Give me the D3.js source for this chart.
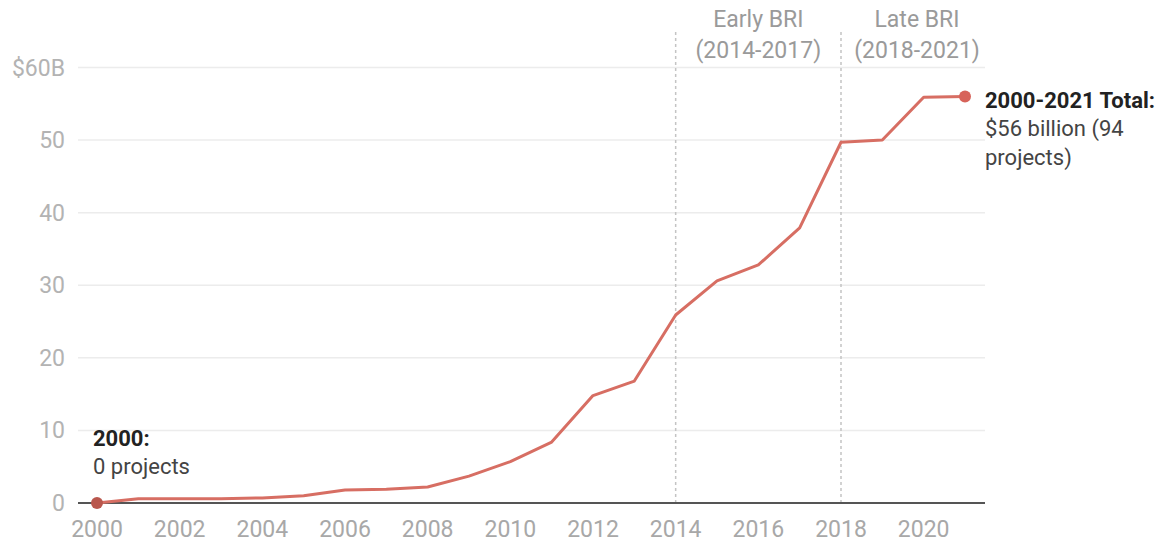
<!DOCTYPE html>
<html>
<head>
<meta charset="utf-8">
<script src="https://cdn.jsdelivr.net/npm/d3@7"></script>
<style>
  html, body { margin: 0; padding: 0; background: #fff; }
  svg { display: block; font-family: Roboto, "Noto Sans", sans-serif; }
</style>
</head>
<body>
<svg id="chart" width="1174" height="553"></svg>
<script>
// Cumulative Chinese financing, billions of USD, by year
const years = [2000, 2001, 2002, 2003, 2004, 2005, 2006, 2007, 2008, 2009, 2010,
               2011, 2012, 2013, 2014, 2015, 2016, 2017, 2018, 2019, 2020, 2021];
const cumulativeBillions = [0, 0.6, 0.6, 0.6, 0.7, 1.0, 1.8, 1.9, 2.2, 3.7, 5.7,
                            8.4, 14.8, 16.8, 25.9, 30.6, 32.8, 37.9, 49.7, 50.0, 55.9, 56.0];
const yTicks = [0, 10, 20, 30, 40, 50, 60];
const xTicks = [2000, 2002, 2004, 2006, 2008, 2010, 2012, 2014, 2016, 2018, 2020];
const periodStarts = [2014, 2018];
const periodLabels = [["Early BRI", "(2014-2017)"], ["Late BRI", "(2018-2021)"]];
const startNote = ["2000:", "0 projects"];
const endNote = ["2000-2021 Total:", "$56 billion (94", "projects)"];

const svg = d3.select("#chart");
const gridLeft = 78, gridRight = 985;

const x = d3.scaleLinear().domain([2000, 2021]).range([97, 965]);
const y = d3.scaleLinear().domain([0, 60]).range([503, 67.5]);

const data = years.map((yr, i) => ({ year: yr, value: cumulativeBillions[i] }));

// horizontal gridlines
svg.append("g")
  .selectAll("line")
  .data(yTicks.filter(t => t > 0))
  .join("line")
  .attr("x1", gridLeft).attr("x2", gridRight)
  .attr("y1", d => y(d)).attr("y2", d => y(d))
  .attr("stroke", "#ececec").attr("stroke-width", 1.5);

// y-axis labels
svg.append("g")
  .selectAll("text")
  .data(yTicks)
  .join("text")
  .attr("x", 65).attr("y", d => y(d))
  .attr("dy", "0.35em")
  .attr("text-anchor", "end")
  .attr("font-size", 23)
  .attr("fill", "#b3b3b3")
  .text(d => d === 60 ? "$60B" : d);

// period dividers
svg.append("g")
  .selectAll("line")
  .data(periodStarts)
  .join("line")
  .attr("x1", d => x(d)).attr("x2", d => x(d))
  .attr("y1", 32).attr("y2", y(0))
  .attr("stroke", "#c4c4c4").attr("stroke-width", 1.5)
  .attr("stroke-dasharray", "3,3");

// period labels
const periodCenters = [(x(2014) + x(2018)) / 2, (x(2018) + gridRight + 8) / 2];
periodLabels.forEach((lines, i) => {
  const t = svg.append("text")
    .attr("text-anchor", "middle")
    .attr("font-size", 23)
    .attr("fill", "#9a9a9a");
  lines.forEach((s, j) => {
    t.append("tspan").attr("x", periodCenters[i]).attr("y", 27 + j * 31).text(s);
  });
});

// baseline
svg.append("line")
  .attr("x1", gridLeft).attr("x2", gridRight)
  .attr("y1", y(0)).attr("y2", y(0))
  .attr("stroke", "#555").attr("stroke-width", 2.2);

// x-axis labels
svg.append("g")
  .selectAll("text")
  .data(xTicks)
  .join("text")
  .attr("x", d => x(d)).attr("y", 537)
  .attr("text-anchor", "middle")
  .attr("font-size", 23)
  .attr("fill", "#a8a8a8")
  .text(d => d);

// cumulative line
const line = d3.line().x(d => x(d.year)).y(d => y(d.value));
svg.append("path")
  .datum(data)
  .attr("d", line)
  .attr("fill", "none")
  .attr("stroke", "#d76e63")
  .attr("stroke-width", 3)
  .attr("stroke-linejoin", "round");

// start and end markers
const first = data[0], last = data[data.length - 1];
svg.append("circle")
  .attr("cx", x(first.year)).attr("cy", y(first.value)).attr("r", 6)
  .attr("fill", "#b9574d");
svg.append("circle")
  .attr("cx", x(last.year)).attr("cy", y(last.value)).attr("r", 6)
  .attr("fill", "#d7635a");

// start annotation
const sn = svg.append("text").attr("font-size", 22);
sn.append("tspan").attr("x", 93).attr("y", 446).attr("font-weight", "bold").attr("fill", "#222").text(startNote[0]);
sn.append("tspan").attr("x", 93).attr("y", 474).attr("fill", "#444").text(startNote[1]);

// end annotation
const en = svg.append("text").attr("font-size", 22);
endNote.forEach((s, j) => {
  en.append("tspan")
    .attr("x", 985).attr("y", y(last.value) + 11 + j * 28.5)
    .attr("font-weight", j === 0 ? "bold" : "normal")
    .attr("fill", j === 0 ? "#222" : "#444")
    .text(s);
});
</script>
</body>
</html>
